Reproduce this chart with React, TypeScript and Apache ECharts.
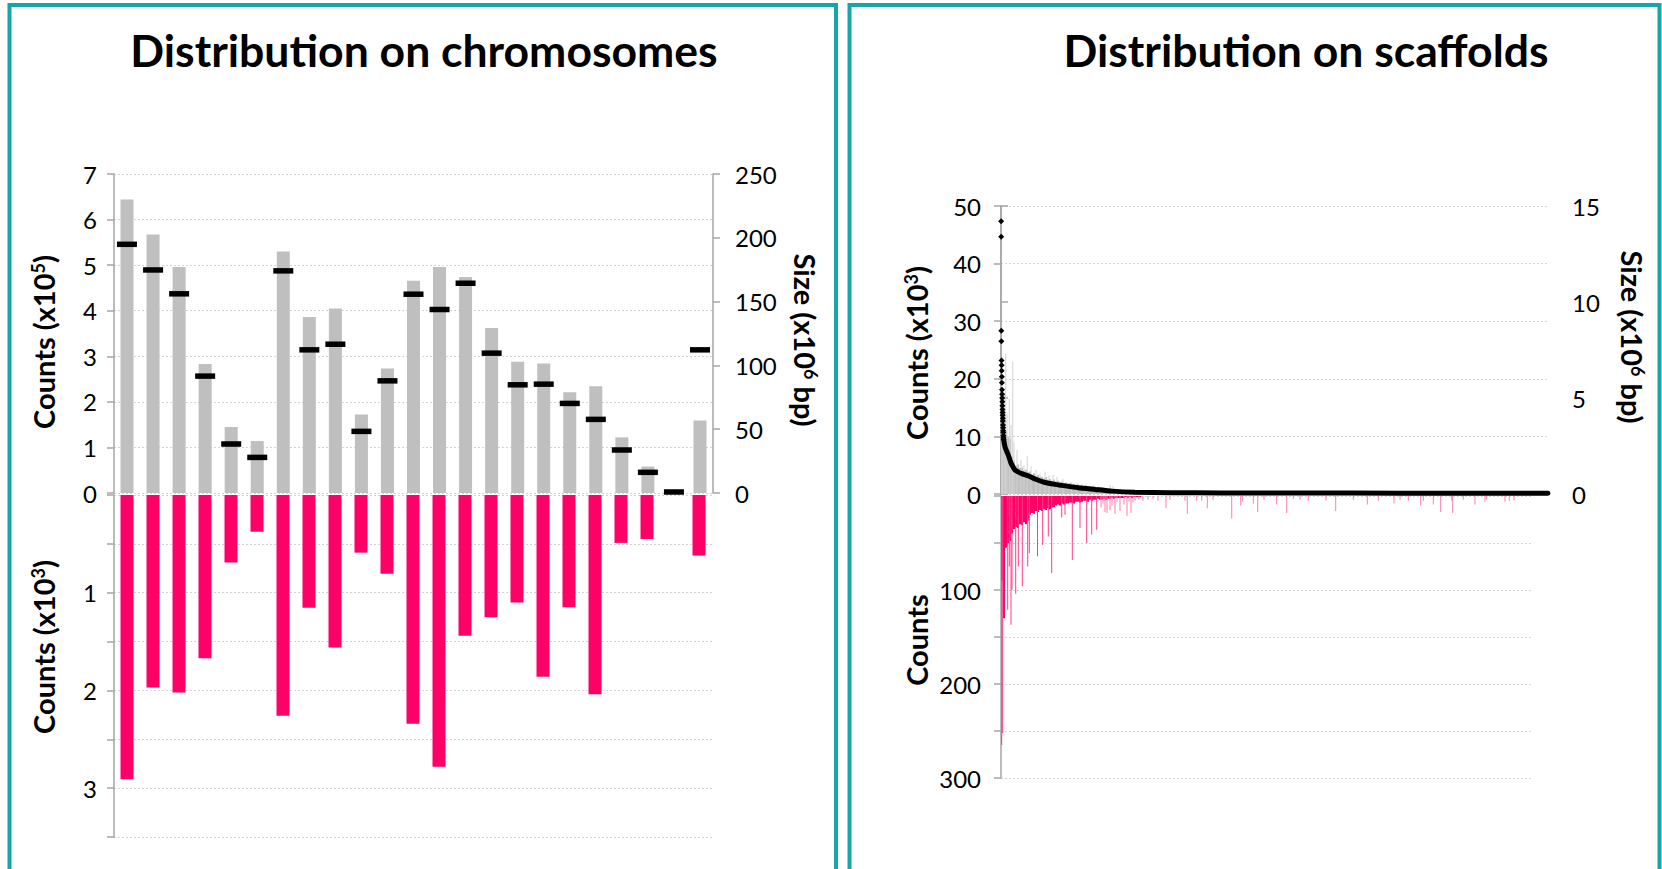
import React, { useEffect, useRef } from 'react';
import * as echarts from 'echarts';

// ---------- Left panel: chromosomes ----------
const chromosomes = ['C1','C2','C3','C4','C5','C6','C7','C8','C9','C10','C11','C12','C13','C14','C15','C16','C17','C18','C19','C20','C21','C22','C23'];
// read counts (x10^5)
const chrReadCounts = [6.44, 5.67, 4.96, 2.83, 1.45, 1.14, 5.30, 3.86, 4.05, 1.72, 2.73, 4.66, 4.96, 4.74, 3.62, 2.88, 2.84, 2.21, 2.34, 1.22, 0.58, 0, 1.59];
// chromosome size (x10^6 bp)
const chrSizes = [194.9, 174.8, 156.1, 91.6, 38.4, 27.9, 174.1, 112.2, 116.6, 48.3, 87.9, 155.8, 143.8, 164.4, 109.6, 84.8, 85.3, 70.2, 57.7, 33.7, 16.2, 0.8, 112.2];
// lower counts (x10^3)
const chrLowCounts = [2.91, 1.97, 2.02, 1.67, 0.69, 0.376, 2.26, 1.155, 1.56, 0.59, 0.806, 2.34, 2.78, 1.44, 1.25, 1.10, 1.86, 1.15, 2.04, 0.49, 0.45, 0, 0.62];
const chrLowTickLabels = [1, 2, 3];

// ---------- Right panel: scaffolds (x = scaffold rank) ----------
const scaffoldRankMax = 5470;
const scaffoldLowRankMax = 5300;
// largest scaffolds, sizes (x10^6 bp), ranks 1..26
const scaffoldTopSizes = [14.2, 13.4, 8.5, 7.95, 6.95, 6.7, 6.42, 6.11, 5.8, 5.43, 5.2, 5.0, 4.8, 4.6, 4.4, 4.25, 4.1, 3.95, 3.8, 3.6, 3.45, 3.3, 3.2, 3.05, 2.95, 2.85];
// size curve for the remaining scaffolds [rank, size x10^6 bp]
const scaffoldSizeCurve = [
  [26, 2.85], [40, 2.46], [55, 2.25], [73, 2.03], [88, 1.8], [100, 1.6], [120, 1.42], [140, 1.25],
  [170, 1.15], [207, 1.06], [270, 0.95], [340, 0.78], [440, 0.6], [540, 0.5], [607, 0.45], [770, 0.33],
  [940, 0.24], [1110, 0.15], [1340, 0.09], [1700, 0.065], [2200, 0.055], [3000, 0.05], [4000, 0.045],
  [5000, 0.04], [5470, 0.035]
];
// counts (x10^3), grouped in bins of 20 ranks starting at rank 10
const scaffoldCountBinStart = 10;
const scaffoldCountBinStep = 20;
const scaffoldCountBins = [12, 11.5, 11, 10, 9.5, 6.5, 5.8, 4.9, 5.1, 4.5, 4.6, 4.1, 4.2, 3.8, 3.9, 3.4, 3.6, 3.1, 3.3, 2.9,
  3.0, 2.7, 2.9, 2.5, 2.6, 2.3, 2.5, 2.2, 2.3, 2.0, 2.2, 1.9, 2.0, 1.8, 1.9, 1.6, 1.8, 1.5, 1.7, 1.5,
  1.6, 1.4, 1.5, 1.3, 1.4, 1.3, 1.3, 1.2, 1.25, 1.1, 1.15, 1.0, 1.05, 0.9, 0.95, 0.8, 0.75];
// single scaffold count peaks [rank, counts x10^3]
const scaffoldCountPeaks = [
  [7, 20], [17, 15], [33, 17.5], [47, 24.4], [60, 14], [83, 16.5], [100, 12], [117, 23], [130, 9], [160, 7.6],
  [200, 5.9], [230, 5], [263, 6.6], [300, 4.8], [350, 4.2], [390, 3.6], [440, 3.9], [480, 3.2], [520, 3.3],
  [560, 3.0], [620, 2.6], [707, 2.1], [760, 1.9], [840, 1.6], [930, 1.5], [1090, 1.6], [1120, 1.4]
];
// lower counts, bins of 20 ranks starting at rank 10
const scaffoldLowBins = [90, 130, 55, 50, 48, 40, 35, 33, 34, 30, 31, 28, 30, 26, 20, 18, 19, 16, 17, 15,
  16, 14, 15, 13, 14, 12, 12, 10, 9, 10, 8, 9, 8, 8, 7, 7, 8, 6, 6, 7, 6, 5, 5, 6, 4, 5, 4, 4, 3, 4,
  4, 3, 4, 3, 3, 2, 3, 2, 2, 2, 2, 2, 1, 2, 1, 2, 1, 1, 1, 1];
// single scaffold lower-count peaks [rank, counts]
const scaffoldLowPeaks = [
  [7, 265], [17, 252], [67, 121], [83, 75], [100, 137], [110, 100], [147, 104], [173, 75], [213, 96], [267, 75],
  [283, 61], [365, 64], [417, 52], [473, 43], [507, 82], [607, 23], [640, 20], [713, 68], [790, 34], [857, 50],
  [907, 41], [957, 36], [1000, 12], [1020, 8], [1040, 17], [1060, 18], [1090, 15], [1110, 10], [1140, 19],
  [1160, 6], [1190, 16], [1230, 9], [1260, 21], [1280, 6], [1300, 18], [1320, 7], [1340, 5], [1380, 4],
  [1420, 5], [1470, 4], [1520, 3], [1570, 5], [1650, 13], [1690, 4], [1840, 5], [1863, 19], [1957, 5],
  [2007, 5], [2063, 13], [2120, 4], [2307, 24], [2397, 10], [2417, 6], [2523, 8], [2567, 17], [2630, 4],
  [2757, 9], [2857, 18], [2923, 3], [2990, 4], [3073, 5], [3250, 5], [3347, 16], [3523, 4], [3663, 9],
  [3773, 5], [3930, 8], [3990, 4], [4073, 5], [4197, 10], [4223, 5], [4323, 9], [4397, 17], [4507, 5],
  [4517, 18], [4623, 4], [4740, 9], [4840, 6], [4857, 4], [5040, 6], [5083, 5], [5130, 4.5]
];
const scaffoldLowTickLabels = [100, 200, 300];

const FONT = 'Lato, "Open Sans", sans-serif';
const TEAL = '#15a7a7';
const PINK = '#ff0066';
const AXIS_GREY = '#a6a6a6';

export default function App() {
  const ref = useRef<HTMLDivElement>(null);

  useEffect(() => {
    document.body.style.margin = '0';
    if (!ref.current) return;
    const chart = echarts.init(ref.current, null, { renderer: 'svg' });

    const axisLine = { show: true, lineStyle: { color: AXIS_GREY, width: 1.5 } };
    const axisTick = { show: true, length: 7, lineStyle: { color: AXIS_GREY, width: 1.5 } };
    const splitLine = { show: true, lineStyle: { color: '#d4d4d4', type: [2, 2], width: 1 } };
    const label = (margin: number, formatter?: any) => ({
      show: true, margin, color: '#000', fontSize: 24, fontFamily: FONT, formatter
    });

    const axisName = (x: number, y: number, rotation: number, text: string) => ({
      type: 'text', x, y, rotation,
      style: {
        text,
        fill: '#000', fontSize: 29, fontWeight: 'bold', fontFamily: FONT,
        align: 'center', verticalAlign: 'middle', textAlign: 'center', textVerticalAlign: 'middle',
        rich: {
          s: { fill: '#000', fontSize: 18, fontWeight: 'bold', fontFamily: FONT, verticalAlign: 'top' }
        }
      }
    });
    const title = (x: number, text: string) => ({
      type: 'text', x, y: 49,
      style: {
        text, fill: '#000', fontSize: 44.5, fontWeight: 'bold', fontFamily: FONT,
        align: 'center', verticalAlign: 'middle', textAlign: 'center', textVerticalAlign: 'middle'
      }
    });

    const countBinData = scaffoldCountBins.map((v, i) => [scaffoldCountBinStart + i * scaffoldCountBinStep, v]);
    const lowBinData = scaffoldLowBins.map((v, i) => [scaffoldCountBinStart + i * scaffoldCountBinStep, v]);
    const topDots = scaffoldTopSizes.map((v, i) => [i + 1, v]);

    chart.setOption({
      animation: false,
      backgroundColor: '#ffffff',
      grid: [
        { left: 114, top: 174, width: 599, height: 319 },
        { left: 114, top: 495, width: 598, height: 342 },
        { left: 1001, top: 206, width: 547, height: 288 },
        { left: 1001, top: 496, width: 530, height: 282 }
      ],
      xAxis: [
        { gridIndex: 0, type: 'category', data: chromosomes, show: false },
        { gridIndex: 1, type: 'category', data: chromosomes, show: false },
        { gridIndex: 2, type: 'value', min: 0, max: scaffoldRankMax, show: false },
        { gridIndex: 3, type: 'value', min: 0, max: scaffoldLowRankMax, show: false },
        { gridIndex: 2, type: 'value', min: 0, max: scaffoldRankMax, show: false },
        { gridIndex: 3, type: 'value', min: 0, max: scaffoldLowRankMax, show: false }
      ],
      yAxis: [
        { gridIndex: 0, type: 'value', min: 0, max: 7, interval: 1, position: 'left',
          axisLine, axisTick, splitLine, axisLabel: label(17) },
        { gridIndex: 0, type: 'value', min: 0, max: 250, interval: 50, position: 'right',
          axisLine, axisTick, splitLine: { show: false }, axisLabel: label(22) },
        { gridIndex: 1, type: 'value', min: 0, max: 3.5, interval: 0.5, inverse: true, position: 'left',
          axisLine, axisTick, splitLine,
          axisLabel: label(17, (v: number) => (chrLowTickLabels.includes(v) ? String(v) : '')) },
        { gridIndex: 2, type: 'value', min: 0, max: 50, interval: 10, position: 'left',
          axisLine, axisTick, splitLine, axisLabel: label(20) },
        { gridIndex: 2, type: 'value', min: 0, max: 15, interval: 5, position: 'right',
          axisLine, axisTick, splitLine: { show: false }, axisLabel: label(24) },
        { gridIndex: 3, type: 'value', min: 0, max: 300, interval: 50, inverse: true, position: 'left',
          axisLine, axisTick, splitLine,
          axisLabel: label(20, (v: number) => (scaffoldLowTickLabels.includes(v) ? String(v) : '')) }
      ],
      series: [
        { type: 'bar', name: 'Chromosome counts', xAxisIndex: 0, yAxisIndex: 0, data: chrReadCounts,
          barWidth: 13, itemStyle: { color: '#bfbfbf' } },
        { type: 'bar', name: 'Chromosome low counts', xAxisIndex: 1, yAxisIndex: 2, data: chrLowCounts,
          barWidth: 13, itemStyle: { color: PINK } },
        { type: 'scatter', name: 'Chromosome size', xAxisIndex: 0, yAxisIndex: 1, data: chrSizes,
          symbol: 'rect', symbolSize: [20, 5.5], itemStyle: { color: '#000', opacity: 1 }, z: 5 },

        { type: 'bar', name: 'Scaffold counts', xAxisIndex: 2, yAxisIndex: 3, data: countBinData,
          barWidth: 2, itemStyle: { color: '#c0c0c0' } },
        { type: 'bar', name: 'Scaffold count peaks', xAxisIndex: 4, yAxisIndex: 3, data: scaffoldCountPeaks,
          barWidth: 1, itemStyle: { color: '#d2d2d2' } },
        { type: 'line', name: 'Scaffold size curve', xAxisIndex: 2, yAxisIndex: 4, data: scaffoldSizeCurve,
          showSymbol: false, smooth: 0.2, lineStyle: { color: '#000', width: 5, cap: 'round' }, z: 6 },
        { type: 'scatter', name: 'Scaffold size', xAxisIndex: 2, yAxisIndex: 4, data: topDots,
          symbol: 'diamond', symbolSize: 6, itemStyle: { color: '#000', opacity: 1 }, z: 7 },

        { type: 'bar', name: 'Scaffold low counts', xAxisIndex: 3, yAxisIndex: 5, data: lowBinData,
          barWidth: 2, itemStyle: { color: PINK } },
        { type: 'bar', name: 'Scaffold low peaks', xAxisIndex: 5, yAxisIndex: 5, data: scaffoldLowPeaks,
          barWidth: 1,
          itemStyle: { color: (p: any) => (p.value[0] < 1000 ? '#ff3d88' : '#ff7fae') } }
      ],
      graphic: [
        { type: 'rect', shape: { x: 9.5, y: 5, width: 826.5, height: 900 },
          style: { fill: 'none', stroke: TEAL, lineWidth: 4 }, silent: true },
        { type: 'rect', shape: { x: 849.5, y: 5, width: 810, height: 900 },
          style: { fill: 'none', stroke: TEAL, lineWidth: 4 }, silent: true },
        title(424, 'Distribution on chromosomes'),
        title(1306, 'Distribution on scaffolds'),
        axisName(43, 342, Math.PI / 2, 'Counts (x10{s|5})'),
        axisName(43, 647, Math.PI / 2, 'Counts (x10{s|3})'),
        axisName(805, 340, -Math.PI / 2, 'Size (x10{s|6} bp)'),
        axisName(916, 353, Math.PI / 2, 'Counts (x10{s|3})'),
        axisName(916, 640, Math.PI / 2, 'Counts'),
        axisName(1632, 337, -Math.PI / 2, 'Size (x10{s|6} bp)')
      ]
    });

    return () => chart.dispose();
  }, []);

  return <div ref={ref} style={{ width: 1662, height: 869, background: '#fff' }} />;
}
